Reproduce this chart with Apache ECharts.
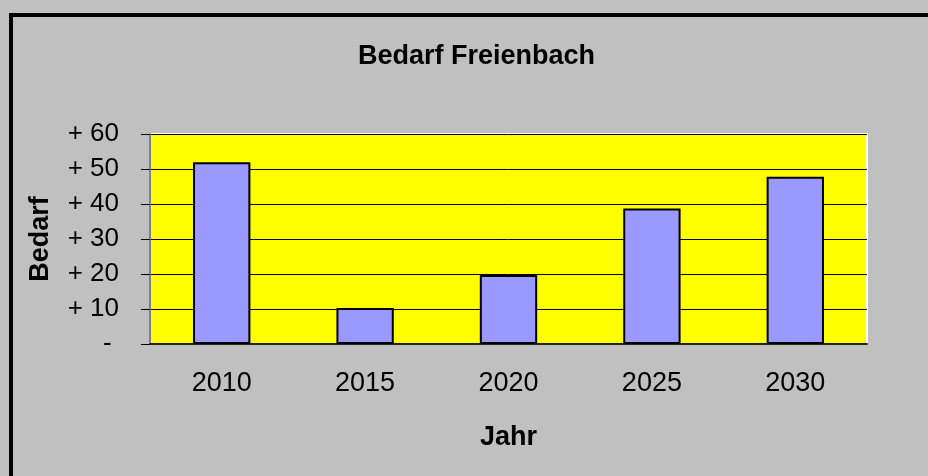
<!DOCTYPE html>
<html>
<head>
<meta charset="utf-8">
<script src="https://cdn.jsdelivr.net/npm/echarts@6/dist/echarts.min.js"></script>
<style>
  html, body { margin: 0; padding: 0; background: #c0c0c0; }
  #chart { width: 928px; height: 476px; }
</style>
</head>
<body>
<div id="chart"></div>
<script>
// Jahre / Bedarf
var years = ['2010', '2015', '2020', '2025', '2030'];
var bedarf = [51.9, 10.3, 19.7, 38.7, 47.8];
var yMin = 0, yMax = 60, yStep = 10;

var chart = echarts.init(document.getElementById('chart'));
var font = 'Arial, "Liberation Sans", sans-serif';

chart.setOption({
  backgroundColor: '#c0c0c0',
  animation: false,
  title: {
    text: 'Bedarf Freienbach',
    left: 353,
    top: 38,
    textStyle: { fontFamily: font, fontSize: 27, fontWeight: 'bold', color: '#000' }
  },
  graphic: [{
    type: 'rect',
    shape: { x: 11, y: 15, width: 1000, height: 1000 },
    style: { fill: 'none', stroke: '#000', lineWidth: 4 },
    silent: true
  }],
  grid: {
    left: 150,
    right: 61,
    top: 134,
    bottom: 132,
    show: true,
    backgroundColor: '#ffff00',
    borderColor: '#ffffff',
    borderWidth: 2
  },
  xAxis: {
    type: 'category',
    data: years,
    name: 'Jahr',
    nameLocation: 'middle',
    nameGap: 80,
    nameTextStyle: { fontFamily: font, fontSize: 27, fontWeight: 'bold', color: '#000' },
    axisLine: { lineStyle: { color: '#222', width: 2 } },
    axisTick: { length: 9, lineStyle: { color: '#555', width: 2 } },
    axisLabel: { margin: 26, fontFamily: font, fontSize: 27, color: '#000' }
  },
  yAxis: {
    type: 'value',
    min: yMin,
    max: yMax,
    interval: yStep,
    name: 'Bedarf',
    nameLocation: 'middle',
    nameGap: 96,
    nameTextStyle: { fontFamily: font, fontSize: 27, fontWeight: 'bold', color: '#000' },
    axisLine: { show: true, lineStyle: { color: '#808080', width: 2 } },
    axisTick: { show: true, length: 9, lineStyle: { color: '#000', width: 1 } },
    axisLabel: {
      margin: 31,
      fontFamily: font,
      fontSize: 26,
      color: '#000',
      formatter: function (v) { return v === 0 ? '- ' : '+ ' + v; }
    },
    splitLine: { show: true, lineStyle: { color: '#000', width: 1 } }
  },
  series: [{
    type: 'bar',
    data: bedarf,
    barWidth: '40%',
    itemStyle: { color: '#9999ff', borderColor: '#000', borderWidth: 2 }
  }]
});
</script>
</body>
</html>
